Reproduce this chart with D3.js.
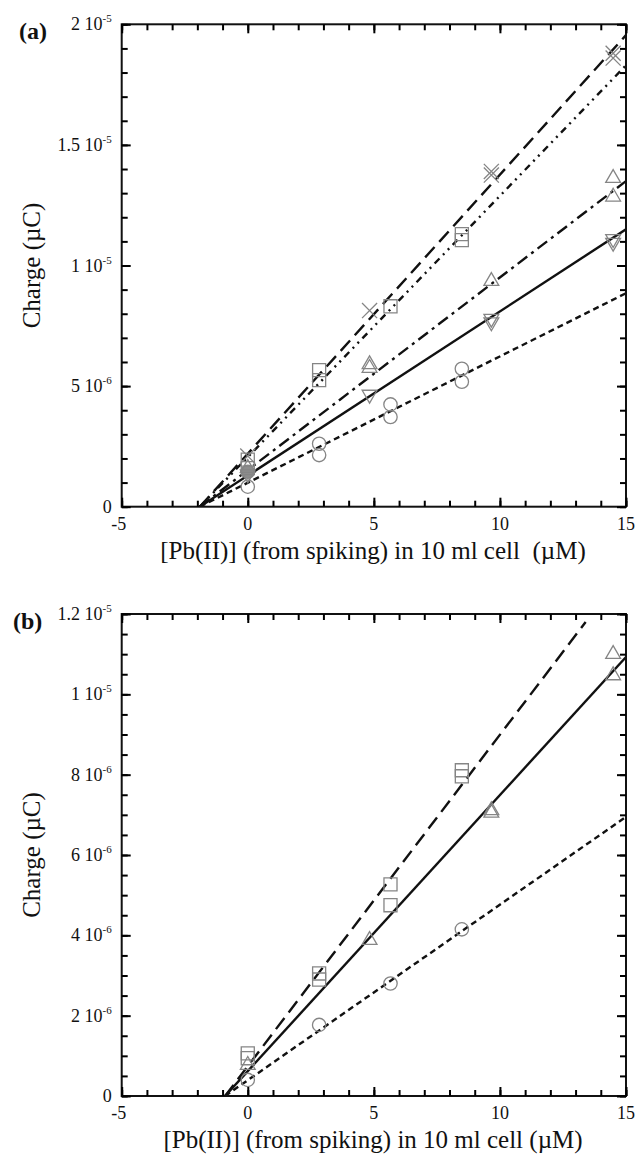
<!DOCTYPE html>
<html>
<head>
<meta charset="utf-8">
<script src="https://cdn.jsdelivr.net/npm/d3@7"></script>
<style>
  body { margin: 0; background: #fff; }
  svg { display: block; }
  text { font-family: "Liberation Serif", "Times New Roman", serif; fill: #111; }
</style>
</head>
<body>
<div id="chart"></div>
<script>
// ---- axis ticks ----
const xMajor = [-5, 0, 5, 10, 15];
const xLabels = ["-5", "0", "5", "10", "15"];
const aYMajor = [0, 5e-6, 1e-5, 1.5e-5, 2e-5];
const aYLabels = [["0", ""], ["5 10", "-6"], ["1 10", "-5"], ["1.5 10", "-5"], ["2 10", "-5"]];
const bYMajor = [0, 2e-6, 4e-6, 6e-6, 8e-6, 1e-5, 1.2e-5];
const bYLabels = [["0", ""], ["2 10", "-6"], ["4 10", "-6"], ["6 10", "-6"], ["8 10", "-6"], ["1 10", "-5"], ["1.2 10", "-5"]];

// ---- panel (a) data: [Pb(II)] spike (µM) vs charge ----
const aCircleX = [0, 2.83, 2.83, 5.66, 5.66, 8.49, 8.49];
const aCircleY = [0.83e-6, 2.61e-6, 2.14e-6, 4.24e-6, 3.72e-6, 5.72e-6, 5.18e-6];
const aFilledX = [0];
const aFilledY = [1.45e-6];
const aSquareX = [0, 0, 2.83, 2.83, 5.66, 8.49, 8.49];
const aSquareY = [1.95e-6, 1.6e-6, 5.66e-6, 5.25e-6, 8.31e-6, 11.3e-6, 11.05e-6];
const aCrossX = [0, 4.83, 9.66, 9.66, 14.49, 14.49];
const aCrossY = [2.1e-6, 8.13e-6, 13.9e-6, 13.75e-6, 18.8e-6, 18.6e-6];
const aTriX = [0, 4.83, 4.83, 9.66, 14.49, 14.49];
const aTriY = [1.6e-6, 5.9e-6, 5.75e-6, 9.35e-6, 13.62e-6, 12.85e-6];
const aInvX = [0, 4.83, 9.66, 9.66, 14.49, 14.49];
const aInvY = [1.35e-6, 4.65e-6, 7.8e-6, 7.65e-6, 11.1e-6, 10.95e-6];

// fitted lines (end points)
const aFitLongX = [-1.9, 15], aFitLongY = [0, 19.55e-6];
const aFitDDotX = [-1.9, 15], aFitDDotY = [0, 18.3e-6];
const aFitDotX = [-1.9, 15], aFitDotY = [0, 13.5e-6];
const aFitSolidX = [-1.9, 15], aFitSolidY = [0, 11.5e-6];
const aFitShortX = [-1.9, 15], aFitShortY = [0, 8.85e-6];

// ---- panel (b) data ----
const bSquareX = [0, 0, 2.83, 2.83, 5.66, 5.66, 8.49, 8.49];
const bSquareY = [1.06e-6, 0.94e-6, 3.05e-6, 2.9e-6, 5.27e-6, 4.75e-6, 8.11e-6, 7.96e-6];
const bTriX = [0, 4.83, 9.66, 9.66, 14.49, 14.49];
const bTriY = [0.77e-6, 3.88e-6, 7.11e-6, 7.05e-6, 11.0e-6, 10.47e-6];
const bCircleX = [0, 2.83, 5.66, 8.49];
const bCircleY = [0.40e-6, 1.77e-6, 2.80e-6, 4.15e-6];

const bFitLongX = [-0.9, 13.4], bFitLongY = [0, 11.8e-6];
const bFitSolidX = [-0.9, 15], bFitSolidY = [0, 10.93e-6];
const bFitShortX = [-0.9, 15], bFitShortY = [0, 6.95e-6];

const width = 636, height = 1159;
const markColor = "#858585";
const tickColor = "#000";

const svg = d3.select("#chart").append("svg")
  .attr("width", width)
  .attr("height", height);

// tick marks go in their own layer on top of everything
const tickLayer = svg.append("g").attr("class", "tick-layer");

function zip(xs, ys) {
  return xs.map((d, i) => [d, ys[i]]);
}

const symbols = {
  circle: d3.symbol().type(d3.symbolCircle).size(140),
  square: d3.symbol().type(d3.symbolSquare).size(170),
  tri: d3.symbol().type(d3.symbolTriangle).size(95),
  cross: d3.symbol().type(d3.symbolTimes).size(150)
};

function drawPanel(cfg) {
  const left = 121.7, right = 626;
  const x = d3.scaleLinear().domain([-5, 15]).range([left, right]);
  const y = d3.scaleLinear().domain([0, cfg.yMax]).range([cfg.bottom, cfg.top]);
  const g = svg.insert("g", ".tick-layer");

  // fitted lines, clipped to the plot area
  const clipId = "clip" + cfg.tag.replace(/\W/g, "");
  svg.append("clipPath").attr("id", clipId)
    .append("rect").attr("x", left).attr("y", cfg.top)
    .attr("width", right - left).attr("height", cfg.bottom - cfg.top);
  const line = d3.line().x(d => x(d[0])).y(d => y(d[1]));
  const lg = g.append("g").attr("clip-path", `url(#${clipId})`);
  cfg.fits.forEach(f => {
    lg.append("path")
      .attr("d", line(f.pts))
      .attr("fill", "none")
      .attr("stroke", "#111")
      .attr("stroke-width", 2.4)
      .attr("stroke-dasharray", f.dash);
  });

  // markers
  cfg.series.forEach(s => {
    g.selectAll(null).data(s.pts).enter().append("path")
      .attr("d", symbols[s.shape])
      .attr("transform", d => `translate(${x(d[0])},${y(d[1])})` + (s.flip ? " rotate(180)" : ""))
      .attr("fill", s.fill || "none")
      .attr("stroke", markColor)
      .attr("stroke-width", 1.3);
  });

  // frame
  g.append("rect")
    .attr("x", left).attr("y", cfg.top)
    .attr("width", right - left).attr("height", cfg.bottom - cfg.top)
    .attr("fill", "none").attr("stroke", "#111").attr("stroke-width", 2);

  // inward ticks on all four sides (minor 6px, major 9px)
  const xMinor = x.ticks(20), yMinor = y.ticks(cfg.yMinorCount);
  const axes = [
    [d3.axisBottom(x).tickValues(xMinor).tickSize(-6), 0, cfg.bottom],
    [d3.axisBottom(x).tickValues(xMajor).tickSize(-9), 0, cfg.bottom],
    [d3.axisTop(x).tickValues(xMinor).tickSize(-6), 0, cfg.top],
    [d3.axisTop(x).tickValues(xMajor).tickSize(-9), 0, cfg.top],
    [d3.axisLeft(y).tickValues(yMinor).tickSize(-6), left, 0],
    [d3.axisLeft(y).tickValues(cfg.yMajor).tickSize(-9), left, 0],
    [d3.axisRight(y).tickValues(yMinor).tickSize(-6), right, 0],
    [d3.axisRight(y).tickValues(cfg.yMajor).tickSize(-9), right, 0]
  ];
  axes.forEach(([ax, tx, ty]) => {
    const a = tickLayer.append("g")
      .attr("transform", `translate(${tx},${ty})`)
      .call(ax.tickFormat(""));
    a.select(".domain").remove();
    a.selectAll("line")
      .attr("stroke", tickColor)
      .attr("stroke-width", 2)
      .style("stroke", tickColor)
      .style("stroke-width", "2px");
  });

  // x tick labels
  g.selectAll(".xl").data(xMajor).enter().append("text")
    .attr("x", d => x(d) + (d < 0 ? -3 : 0))
    .attr("y", cfg.bottom + 23)
    .attr("text-anchor", "middle")
    .style("font-size", "18px")
    .text((d, i) => xLabels[i]);

  // y tick labels with exponents
  g.selectAll(".yl").data(cfg.yMajor).enter().append("text")
    .attr("x", left - 10)
    .attr("y", d => y(d) + 6)
    .attr("text-anchor", "end")
    .style("font-size", "18px")
    .each(function(d, i) {
      const t = d3.select(this);
      const lab = cfg.yLabels[i];
      t.append("tspan").text(lab[0]);
      if (lab[1]) {
        t.append("tspan").attr("dy", -8).style("font-size", "11px").text(lab[1]);
      }
    });

  // axis titles
  g.append("text")
    .attr("x", 373).attr("y", cfg.bottom + 52)
    .attr("text-anchor", "middle")
    .style("font-size", "25px")
    .text(cfg.xTitle);
  g.append("text")
    .attr("transform", `translate(40,${(cfg.top + cfg.bottom) / 2}) rotate(-90)`)
    .attr("text-anchor", "middle")
    .style("font-size", "25px")
    .text("Charge (\u00b5C)");
  g.append("text")
    .attr("x", cfg.tagX).attr("y", cfg.top + 15)
    .style("font-size", "24px")
    .style("font-weight", "bold")
    .text(cfg.tag);
}

drawPanel({
  top: 24.3, bottom: 506.7, yMax: 2e-5, yMinorCount: 20,
  yMajor: aYMajor, yLabels: aYLabels, tag: "(a)", tagX: 19,
  xTitle: "[Pb(II)] (from spiking) in 10 ml cell \u00a0(\u00b5M)",
  fits: [
    { pts: zip(aFitLongX, aFitLongY), dash: "14,7" },
    { pts: zip(aFitDDotX, aFitDDotY), dash: "7,5,2,5,2,5" },
    { pts: zip(aFitDotX, aFitDotY), dash: "12,5,3,5" },
    { pts: zip(aFitSolidX, aFitSolidY), dash: null },
    { pts: zip(aFitShortX, aFitShortY), dash: "6,4" }
  ],
  series: [
    { shape: "circle", pts: zip(aCircleX, aCircleY) },
    { shape: "circle", pts: zip(aFilledX, aFilledY), fill: "#8c8c8c" },
    { shape: "square", pts: zip(aSquareX, aSquareY) },
    { shape: "cross", pts: zip(aCrossX, aCrossY) },
    { shape: "tri", pts: zip(aTriX, aTriY) },
    { shape: "tri", pts: zip(aInvX, aInvY), flip: true }
  ]
});

drawPanel({
  top: 614, bottom: 1096, yMax: 1.2e-5, yMinorCount: 24,
  yMajor: bYMajor, yLabels: bYLabels, tag: "(b)", tagX: 13,
  xTitle: "[Pb(II)] (from spiking) in 10 ml cell (\u00b5M)",
  fits: [
    { pts: zip(bFitLongX, bFitLongY), dash: "14,7" },
    { pts: zip(bFitSolidX, bFitSolidY), dash: null },
    { pts: zip(bFitShortX, bFitShortY), dash: "6,4" }
  ],
  series: [
    { shape: "square", pts: zip(bSquareX, bSquareY) },
    { shape: "tri", pts: zip(bTriX, bTriY) },
    { shape: "circle", pts: zip(bCircleX, bCircleY) }
  ]
});
</script>
</body>
</html>
